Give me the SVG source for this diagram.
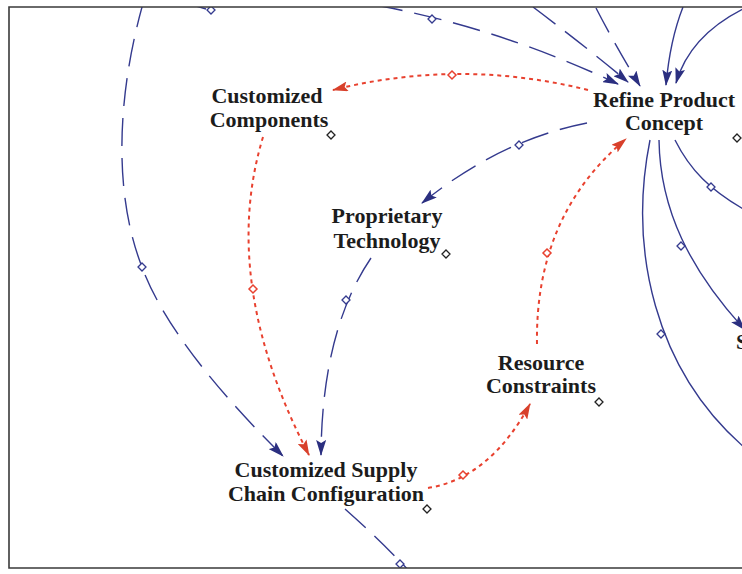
<svg xmlns="http://www.w3.org/2000/svg" width="742" height="574" viewBox="0 0 742 574">
  <style>
    .label { font-family: "Liberation Serif", "Times New Roman", serif; font-weight: bold; font-size: 22px; fill: #1c1c1c; text-anchor: middle; }
    .blue { fill: none; stroke: #343a8e; stroke-width: 1.4; }
    .dash { stroke-dasharray: 28 12; }
    .red { fill: none; stroke: #e8412f; stroke-width: 2; stroke-dasharray: 4 4; }
    .pin-b { fill: #fff; stroke: #343a8e; stroke-width: 1.3; }
    .pin-r { fill: #fff; stroke: #e8412f; stroke-width: 1.5; }
    .pin-n { fill: #fff; stroke: #222; stroke-width: 1.3; }
  </style>
  <defs>
    <marker id="arrow-blue" viewBox="0 0 16 10" refX="15" refY="5" markerWidth="16" markerHeight="10" markerUnits="userSpaceOnUse" orient="auto">
      <path d="M0,0 L16,5 L0,10 L3,5 Z" fill="#2b2f80"/>
    </marker>
    <marker id="arrow-red" viewBox="0 0 16 10" refX="15" refY="5" markerWidth="16" markerHeight="10" markerUnits="userSpaceOnUse" orient="auto">
      <path d="M0,0 L16,5 L0,10 L3,5 Z" fill="#d8402b"/>
    </marker>
    <path id="pin" d="M0,-4 L4,0 L0,4 L-4,0 Z"/>
    <clipPath id="frame-clip">
      <rect x="9" y="7" width="740" height="561"/>
    </clipPath>
  </defs>

  <rect width="742" height="574" fill="#fff"/>

  <!-- links -->
  <g id="connectors" clip-path="url(#frame-clip)">
    <!-- polarity links (red, dotted) -->
    <path class="red" d="M588,90 Q460,58 333,90" marker-end="url(#arrow-red)"/>
    <path class="red" d="M263,137 Q219,282 309,455" marker-end="url(#arrow-red)"/>
    <path class="red" d="M428,488 Q490,478 530,404" marker-end="url(#arrow-red)"/>
    <path class="red" d="M537,344 Q535,215 626,139" marker-end="url(#arrow-red)"/>

    <!-- information links (blue) -->
    <path class="blue dash" d="M587,123 Q500,140 422,203" marker-end="url(#arrow-blue)"/>
    <path class="blue dash" d="M371,258 Q322,330 321,455" marker-end="url(#arrow-blue)"/>
    <path class="blue dash" d="M144,0 C118,90 112,190 142,267 C165,330 228,402 283,456" marker-end="url(#arrow-blue)"/>
    <path class="blue dash" d="M375,5 Q500,28 618,84" marker-end="url(#arrow-blue)"/>
    <path class="blue dash" d="M533,7 Q590,50 628,82" marker-end="url(#arrow-blue)"/>
    <path class="blue dash" d="M596,8 Q615,45 640,86" marker-end="url(#arrow-blue)"/>
    <path class="blue" d="M683,7 Q670,40 666,85" marker-end="url(#arrow-blue)"/>
    <path class="blue" d="M745,8 Q690,35 676,83" marker-end="url(#arrow-blue)"/>
    <path class="blue" d="M650,140 C628,250 655,370 745,448"/>
    <path class="blue" d="M659,140 C660,210 690,270 745,330" marker-end="url(#arrow-blue)"/>
    <path class="blue" d="M675,140 C690,170 710,190 745,210"/>
    <path class="blue dash" d="M345,509 Q380,540 412,574"/>
    <path class="blue" d="M196,6 L206,9"/>

    <!-- link handles -->
    <use href="#pin" class="pin-r" x="452" y="75"/>
    <use href="#pin" class="pin-r" x="253" y="289"/>
    <use href="#pin" class="pin-r" x="463" y="475"/>
    <use href="#pin" class="pin-r" x="547" y="253"/>
    <use href="#pin" class="pin-b" x="519" y="145"/>
    <use href="#pin" class="pin-b" x="346" y="300"/>
    <use href="#pin" class="pin-b" x="142" y="267"/>
    <use href="#pin" class="pin-b" x="432" y="19"/>
    <use href="#pin" class="pin-b" x="661" y="334"/>
    <use href="#pin" class="pin-b" x="681" y="246"/>
    <use href="#pin" class="pin-b" x="711" y="187"/>
    <use href="#pin" class="pin-b" x="400" y="564"/>
    <use href="#pin" class="pin-b" x="211" y="10"/>
  </g>

  <!-- frame -->
  <path d="M742,7 L9,7 L9,568 L742,568" fill="none" stroke="#3a3a3a" stroke-width="1.6"/>

  <!-- variables -->
  <g id="customized-components">
    <text class="label" x="267" y="103">Customized</text>
    <text class="label" x="269" y="127">Components</text>
    <use href="#pin" class="pin-n" x="331" y="135"/>
  </g>
  <g id="refine-product-concept">
    <text class="label" x="664" y="107">Refine Product</text>
    <text class="label" x="664" y="130">Concept</text>
    <use href="#pin" class="pin-n" x="737" y="138"/>
  </g>
  <g id="proprietary-technology">
    <text class="label" x="387" y="223">Proprietary</text>
    <text class="label" x="387" y="248">Technology</text>
    <use href="#pin" class="pin-n" x="446" y="254"/>
  </g>
  <g id="resource-constraints">
    <text class="label" x="541" y="370">Resource</text>
    <text class="label" x="541" y="393">Constraints</text>
    <use href="#pin" class="pin-n" x="599" y="402"/>
  </g>
  <g id="customized-supply-chain-configuration">
    <text class="label" x="326" y="477">Customized Supply</text>
    <text class="label" x="326" y="501">Chain Configuration</text>
    <use href="#pin" class="pin-n" x="427" y="509"/>
  </g>
  <g id="s-node">
    <text class="label" x="736" y="349" style="text-anchor:start">S</text>
  </g>
</svg>
